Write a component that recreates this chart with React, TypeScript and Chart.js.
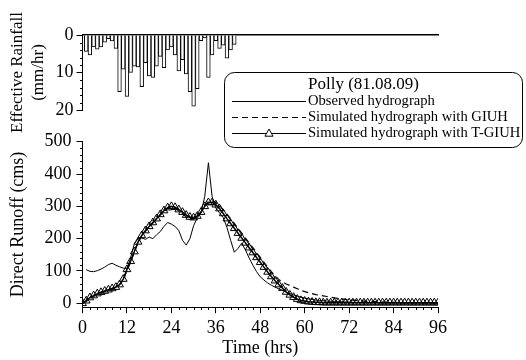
import React, { useEffect, useRef } from "react";
import { Chart, registerables } from "chart.js";

Chart.register(...registerables);

const FONT = "'Liberation Serif', 'Times New Roman', 'DejaVu Serif', serif";

// ---------- data ----------
const timeHours = [
  0, 1, 2, 3, 4, 5, 6, 7, 8, 9, 10, 11, 12, 13, 14, 15, 16, 17, 18, 19, 20, 21, 22, 23, 24,
  25, 26, 27, 28, 29, 30, 31, 32, 33, 34, 35, 36, 37, 38, 39, 40, 41, 42, 43, 44, 45, 46, 47, 48,
  49, 50, 51, 52, 53, 54, 55, 56, 57, 58, 59, 60, 61, 62, 63, 64, 65, 66, 67, 68, 69, 70, 71, 72,
  73, 74, 75, 76, 77, 78, 79, 80, 81, 82, 83, 84, 85, 86, 87, 88, 89, 90, 91, 92, 93, 94, 95, 96,
];

const observed = [
  null, 104, 99, 98, 101, 106, 112, 120, 124, 118, 113, 109, 108, 140, 185, 200, 202, 198, 205, 200, 212, 222, 238, 250, 245,
  238, 225, 195, 180, 200, 240, 265, 280, 330, 435, 330, 295, 280, 265, 235, 195, 158, 170, 186, 165, 140, 118, 98, 82,
  72, 63, 56, 50, 45, 40, 35, 30, 26, 22, 19, 16, 14, 12, 10, 9, 8, 7, 6, 6, 5, 5, 4, 4,
  3, 3, 3, 2, 2, 2, 2, 2, 1, 1, 1, 1, 1, 1, 1, 1, 1, 1, 1, 1, 1, 1, 1, 1,
];

const giuh = [
  0, 6, 15, 22, 28, 33, 37, 41, 45, 50, 57, 72, 100, 128, 158, 188, 208, 223, 236, 248, 260, 273, 285, 294, 298,
  294, 286, 277, 268, 262, 262, 268, 283, 302, 315, 317, 312, 302, 290, 276, 262, 247, 232, 217, 202, 187, 172, 157, 142,
  127, 112, 98, 85, 74, 66, 60, 55, 50, 45, 40, 36, 33, 30, 27, 25, 23, 21, 19, 17, 15, 14, 12, 11,
  10, 9, 8, 7, 6, 6, 5, 5, 4, 4, 3, 3, 3, 2, 2, 2, 2, 2, 2, 1, 1, 1, 1, 1,
];

const tGiuh = [
  0, 8, 18, 24, 30, 34, 38, 42, 46, 50, 58, 75, 105, 130, 160, 190, 210, 225, 238, 250, 262, 275, 287, 296, 300,
  297, 290, 282, 273, 267, 265, 270, 282, 300, 312, 312, 305, 293, 278, 262, 247, 232, 217, 202, 187, 172, 157, 142, 127,
  112, 97, 83, 70, 58, 47, 35, 26, 19, 13, 9, 7, 5, 4, 3, 3, 2, 2, 2, 2, 2, 2, 2, 2,
  2, 2, 2, 2, 2, 2, 2, 2, 2, 2, 2, 2, 2, 2, 2, 2, 2, 2, 2, 2, 2, 2, 2, 2,
];

const rainHours = [
  1, 2, 3, 4, 5, 6, 7, 8, 9, 10, 11, 12, 13, 14, 15, 16, 17, 18, 19, 20, 21,
  22, 23, 24, 25, 26, 27, 28, 29, 30, 31, 32, 33, 34, 35, 36, 37, 38, 39, 40, 41,
];
const rainfall = [
  4.4, 5.3, 3.2, 3.8, 3.2, 1.9, 1.0, 1.6, 3.6, 15.1, 9.1, 16.4, 10, 8.3, 8.5, 13.8, 7.4, 10.9, 11.3, 8.3, 5.7,
  8.7, 4, 3.2, 5.3, 9.6, 6.6, 10.4, 15.1, 19, 14.3, 1.5, 0.8, 11.3, 5.3, 1.5, 3.6, 2.7, 6.2, 4, 2.5,
];

const timeTicks = [0, 12, 24, 36, 48, 60, 72, 84, 96];
const runoffTicks = [0, 100, 200, 300, 400, 500];
const rainTicks = [0, 10, 20];
const timeMinor = timeHours.filter((h) => h % 2 === 0 && h % 12 !== 0);
const runoffMinor = [20, 40, 60, 80, 120, 140, 160, 180, 220, 240, 260, 280, 320, 340, 360, 380, 420, 440, 460, 480];
const rainMinor = [2, 4, 6, 8, 12, 14, 16, 18];

const legendTitle = "Polly (81.08.09)";
const seriesLabels = [
  "Observed hydrograph",
  "Simulated hydrograph with GIUH",
  "Simulated hydrograph with T-GIUH",
];

// ---------- plugins ----------
function minorTicks(specs: { axis: string; values: number[]; len: number }[]) {
  return {
    id: "minorTicks",
    afterDraw(chart: any) {
      const ctx = chart.ctx;
      ctx.save();
      ctx.strokeStyle = "#000";
      ctx.lineWidth = 1;
      for (const s of specs) {
        const sc = chart.scales[s.axis];
        for (const v of s.values) {
          const p = Math.round(sc.getPixelForValue(v)) + 0.5;
          ctx.beginPath();
          if (sc.isHorizontal()) {
            const y0 = Math.round(sc.top);
            ctx.moveTo(p, y0);
            ctx.lineTo(p, y0 + s.len);
          } else {
            const x0 = Math.round(sc.right);
            ctx.moveTo(x0 - s.len, p);
            ctx.lineTo(x0, p);
          }
          ctx.stroke();
        }
      }
      ctx.restore();
    },
  };
}

const legendPlugin = {
  id: "hydroLegend",
  afterDraw(chart: any) {
    const ctx = chart.ctx;
    ctx.save();
    const x0 = 224.5, y0 = 72.5, w = 298, h = 75;
    ctx.beginPath();
    (ctx as any).roundRect(x0, y0, w, h, 10);
    ctx.fillStyle = "#fff";
    ctx.fill();
    ctx.strokeStyle = "#000";
    ctx.lineWidth = 1;
    ctx.stroke();
    ctx.fillStyle = "#000";
    ctx.textAlign = "left";
    ctx.textBaseline = "middle";
    ctx.font = `17px ${FONT}`;
    ctx.fillText(legendTitle, 308, 85);
    ctx.font = `14.6px ${FONT}`;
    chart.data.datasets.forEach((ds: any, i: number) => {
      const y = 101 + i * 16 + 0.5;
      ctx.save();
      ctx.lineWidth = 1;
      ctx.setLineDash(ds.borderDash || []);
      ctx.beginPath();
      ctx.moveTo(232, y);
      ctx.lineTo(306, y);
      ctx.stroke();
      ctx.restore();
      if (ds.pointStyle === "triangle") {
        const cx = 269, r = 4.5;
        ctx.beginPath();
        ctx.moveTo(cx, y - r);
        ctx.lineTo(cx + r * 0.9, y + r * 0.6);
        ctx.lineTo(cx - r * 0.9, y + r * 0.6);
        ctx.closePath();
        ctx.fillStyle = "#fff";
        ctx.fill();
        ctx.stroke();
        ctx.fillStyle = "#000";
      }
      ctx.fillText(ds.label, 308, y);
    });
    ctx.restore();
  },
};

const toPoints = (ys: (number | null)[]) => timeHours.map((t, i) => ({ x: t, y: ys[i] }));

export default function App() {
  const topRef = useRef<HTMLCanvasElement>(null);
  const botRef = useRef<HTMLCanvasElement>(null);

  useEffect(() => {
    Chart.defaults.font.family = FONT;
    Chart.defaults.color = "#000";

    const axisBorder = { display: true, color: "#000", width: 1 };

    const bottom = new Chart(botRef.current as HTMLCanvasElement, {
      type: "line",
      data: {
        datasets: [
          {
            label: seriesLabels[0],
            data: toPoints(observed) as any,
            borderColor: "#000",
            borderWidth: 1,
            pointRadius: 0,
            spanGaps: false,
          },
          {
            label: seriesLabels[1],
            data: toPoints(giuh) as any,
            borderColor: "#000",
            borderWidth: 1.2,
            borderDash: [6, 4],
            pointRadius: 0,
          },
          {
            label: seriesLabels[2],
            data: toPoints(tGiuh) as any,
            borderColor: "#000",
            borderWidth: 1.5,
            pointStyle: "triangle",
            pointRadius: 4.5,
            pointBorderWidth: 1,
            pointBorderColor: "#000",
            pointBackgroundColor: "rgba(255,255,255,0)",
          },
        ],
      },
      options: {
        responsive: false,
        animation: false,
        layout: { padding: { left: 7, top: 141.7, right: 88, bottom: 0 } },
        plugins: { legend: { display: false }, tooltip: { enabled: false } },
        scales: {
          x: {
            type: "linear",
            min: 0,
            max: 96,
            afterBuildTicks: (s: any) => {
              s.ticks = timeTicks.map((v) => ({ value: v }));
            },
            ticks: { font: { size: 18 }, padding: 4, maxRotation: 0, autoSkip: false },
            grid: { drawOnChartArea: false, drawTicks: true, tickLength: 6, color: "#000" },
            border: axisBorder,
            title: { display: true, text: "Time (hrs)", font: { size: 18 }, padding: { top: 0, bottom: 1 } },
            afterFit: (s: any) => {
              s.height = 52.8;
            },
          },
          y: {
            type: "linear",
            min: -12,
            max: 500,
            afterBuildTicks: (s: any) => {
              s.ticks = runoffTicks.map((v) => ({ value: v }));
            },
            ticks: { font: { size: 18 }, padding: 5 },
            grid: { drawOnChartArea: false, drawTicks: true, tickLength: 6, color: "#000" },
            border: axisBorder,
            title: { display: true, text: "Direct Runoff (cms)", font: { size: 18 }, padding: 0 },
            afterFit: (s: any) => {
              s.width = 75.5;
            },
          },
        },
      } as any,
      plugins: [
        minorTicks([
          { axis: "x", values: timeMinor, len: 3 },
          { axis: "y", values: runoffMinor, len: 3 },
        ]),
        legendPlugin,
      ],
    });

    const top = new Chart(topRef.current as HTMLCanvasElement, {
      type: "bar",
      data: {
        datasets: [
          {
            label: "Effective Rainfall",
            data: rainHours.map((t, i) => ({ x: t, y: rainfall[i] })) as any,
            backgroundColor: "#fff",
            borderColor: "#000",
            borderWidth: 1,
            barPercentage: 1,
            categoryPercentage: 1,
          },
        ],
      },
      options: {
        responsive: false,
        animation: false,
        layout: { padding: { left: 7, top: 35, right: 88, bottom: 40 } },
        plugins: { legend: { display: false }, tooltip: { enabled: false } },
        scales: {
          x: {
            type: "linear",
            position: "top",
            min: 0,
            max: 96,
            offset: false,
            ticks: { display: false },
            grid: { display: false },
            border: { display: true, color: "#000", width: 1.5 },
            afterFit: (s: any) => {
              s.height = 0;
            },
          },
          y: {
            type: "linear",
            reverse: true,
            min: 0,
            max: 20,
            afterBuildTicks: (s: any) => {
              s.ticks = rainTicks.map((v) => ({ value: v }));
            },
            ticks: { font: { size: 18 }, padding: 3 },
            grid: { drawOnChartArea: false, drawTicks: true, tickLength: 6, color: "#000" },
            border: axisBorder,
            title: {
              display: true,
              text: ["Effective Rainfall", "(mm/hr)"],
              font: { size: 17 },
              padding: { top: 0.5, bottom: 0 },
            },
            afterFit: (s: any) => {
              s.width = 75.5;
            },
          },
        },
      } as any,
      plugins: [minorTicks([{ axis: "y", values: rainMinor, len: 3 }])],
    });

    return () => {
      top.destroy();
      bottom.destroy();
    };
  }, []);

  return (
    <div style={{ position: "fixed", left: 0, top: 0, width: 526, height: 360, background: "#fff" }}>
      <canvas ref={botRef} width={526} height={360} style={{ position: "absolute", left: 0, top: 0 }} />
      <canvas ref={topRef} width={526} height={150} style={{ position: "absolute", left: 0, top: 0 }} />
    </div>
  );
}
